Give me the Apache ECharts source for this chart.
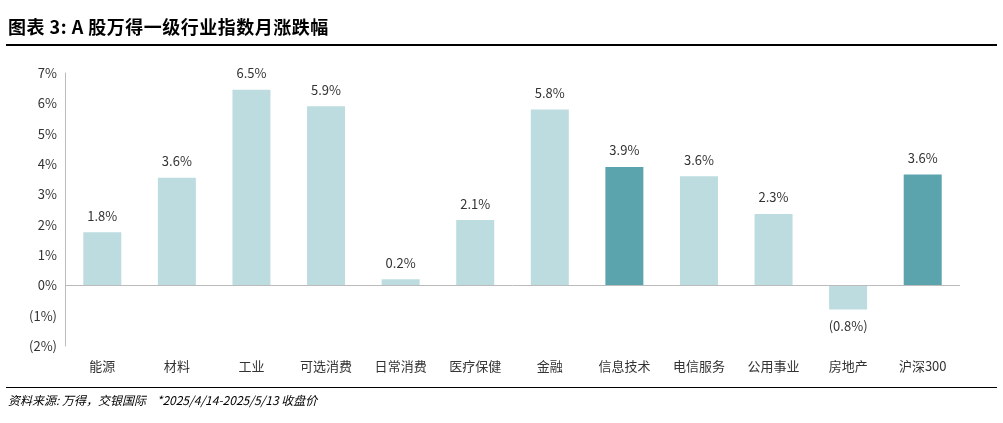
<!DOCTYPE html>
<html>
<head>
<meta charset="utf-8">
<script src="https://cdn.jsdelivr.net/npm/echarts@6/dist/echarts.min.js"></script>
<style>
  body { margin: 0; background: #fff; font-family: "Noto Sans CJK SC", sans-serif; }
  #title { position: absolute; left: 8px; top: 13px; font-size: 18px; font-weight: bold; color: #000; letter-spacing: 0.5px; }
  #rule1 { position: absolute; left: 6px; right: 6px; top: 44px; border-top: 2px solid #000; }
  #rule2 { position: absolute; left: 6px; right: 6px; top: 387px; border-top: 1.5px solid #000; }
  #src { position: absolute; left: 8px; top: 391px; font-size: 12px; font-style: italic; color: #000; }
  #chart { position: absolute; left: 0; top: 0; width: 1003px; height: 423px; }
</style>
</head>
<body>
<div id="chart"></div>
<div id="title">图表 3: A 股万得一级行业指数月涨跌幅</div>
<div id="rule1"></div>
<div id="rule2"></div>
<div id="src">资料来源: 万得，交银国际&nbsp;&nbsp;&nbsp;&nbsp;*2025/4/14-2025/5/13 收盘价</div>
<script>
const categories = ['能源', '材料', '工业', '可选消费', '日常消费', '医疗保健', '金融', '信息技术', '电信服务', '公用事业', '房地产', '沪深300'];
const values = [1.75, 3.55, 6.45, 5.9, 0.2, 2.15, 5.8, 3.9, 3.6, 2.35, -0.8, 3.65];
const valueLabels = ['1.8%', '3.6%', '6.5%', '5.9%', '0.2%', '2.1%', '5.8%', '3.9%', '3.6%', '2.3%', '(0.8%)', '3.6%'];
const highlighted = ['信息技术', '沪深300'];

const light = '#bddcdf';
const dark = '#5ba4ae';

const chart = echarts.init(document.getElementById('chart'));
chart.setOption({
  animation: false,
  textStyle: { fontFamily: 'Noto Sans CJK SC' },
  grid: { left: 65, right: 43, top: 73, bottom: 77 },
  xAxis: {
    type: 'category',
    data: categories,
    axisLine: { show: false },
    axisTick: { show: false },
    axisLabel: { color: '#333', fontSize: 13, margin: 14 }
  },
  yAxis: {
    type: 'value',
    min: -2, max: 7, interval: 1,
    splitLine: { show: false },
    axisLine: { show: true, lineStyle: { color: '#bbb' } },
    axisLabel: {
      color: '#333', fontSize: 13,
      formatter: (v) => v < 0 ? '(' + (-v) + '%)' : v + '%'
    }
  },
  series: [{
    type: 'bar',
    barWidth: 38,
    data: values.map((v, i) => ({
      value: v,
      itemStyle: { color: highlighted.includes(categories[i]) ? dark : light },
      label: v < 0 ? { position: 'bottom' } : undefined
    })),
    label: {
      show: true, color: '#333', fontSize: 13, distance: 10,
      formatter: (p) => valueLabels[p.dataIndex],
      position: 'top'
    },
    markLine: {
      silent: true, symbol: 'none', label: { show: false },
      lineStyle: { color: '#bbb', type: 'solid', width: 1 },
      data: [{ yAxis: 0 }]
    }
  }]
});
</script>
</body>
</html>
